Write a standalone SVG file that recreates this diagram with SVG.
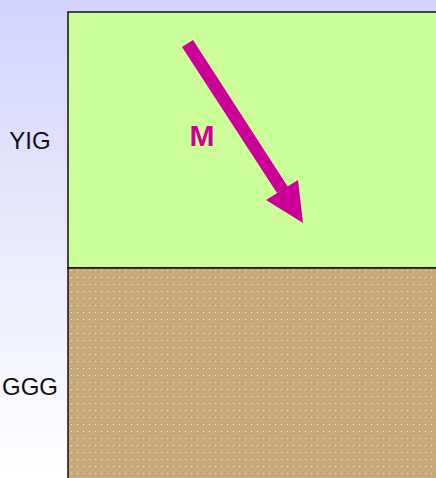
<svg xmlns="http://www.w3.org/2000/svg" width="436" height="478" viewBox="0 0 436 478">
  <defs>
    <linearGradient id="bg" x1="0" y1="0" x2="0" y2="1">
      <stop offset="0" stop-color="#d3d3fc"/>
      <stop offset="0.55" stop-color="#ececfd"/>
      <stop offset="1" stop-color="#ffffff"/>
    </linearGradient>
    <pattern id="dots" x="68" y="268" width="6" height="7" patternUnits="userSpaceOnUse">
      <rect width="6" height="7" fill="#c8aa7a"/>
      <rect x="1" y="1" width="1" height="1" fill="#c0a070"/>
      <rect x="4" y="4" width="1" height="1" fill="#c0a070"/>
      <rect x="3" y="2" width="1" height="1" fill="#f2e6cc"/>
    </pattern>
    <style>
      .lbl { font-family: "Liberation Sans", Arial, sans-serif; font-size: 24px; fill: #111111; text-anchor: middle; }
      .m { font-family: "Liberation Sans", Arial, sans-serif; font-size: 30px; font-weight: bold; fill: #cc0099; text-anchor: middle; }
      .layer { stroke: #111111; stroke-width: 1.5; }
    </style>
  </defs>
  <rect x="0" y="0" width="436" height="478" fill="url(#bg)"/>
  <g id="yig">
    <rect class="layer" x="68" y="12" width="380" height="256" fill="#ccff99"/>
    <text class="lbl" x="30" y="149">YIG</text>
  </g>
  <g id="ggg">
    <rect class="layer" x="68" y="268" width="380" height="220" fill="url(#dots)"/>
    <text class="lbl" x="30" y="395">GGG</text>
  </g>
  <g id="magnetization">
    <polygon fill="#cc0099" points="182,47 193,40 288,187 277,193"/>
    <polygon fill="#cc0099" points="266,200 298,180 303,223"/>
    <text class="m" x="202" y="146">M</text>
  </g>
</svg>
